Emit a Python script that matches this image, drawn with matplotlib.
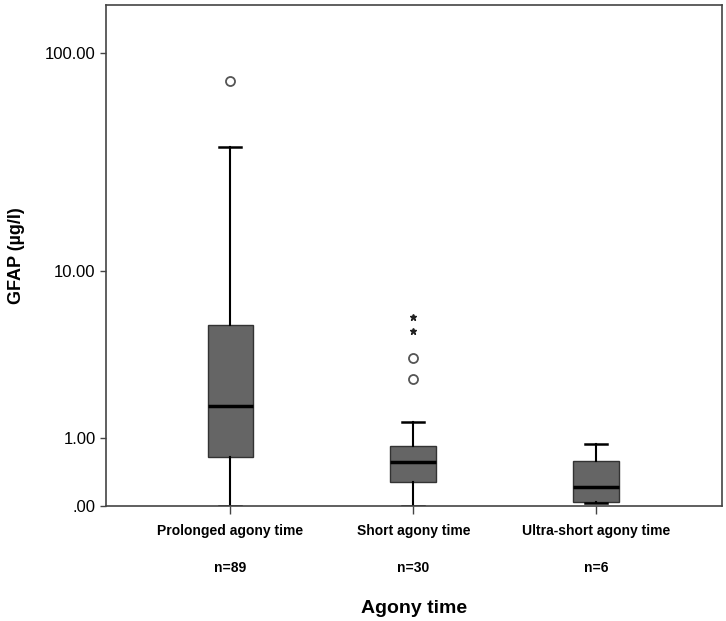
import matplotlib
matplotlib.use("Agg")
import matplotlib.pyplot as plt
import numpy as np

# data (GFAP, µg/l)
groups = ["Prolonged agony time", "Short agony time", "Ultra-short agony time"]
n_counts = [89, 30, 6]
q1 = [0.65, 0.285, 0.048]
medians = [1.76, 0.57, 0.214]
q3 = [5.3, 0.85, 0.59]
whisk_lo = [0.0, 0.0, 0.037]
whisk_hi = [37.8, 1.35, 0.89]
outliers = [[75.4], [2.66, 3.52], []]
extremes = [[], [4.98, 5.86], []]

ytick_vals = [0, 1, 10, 100]
ytick_labels = [".00", "1.00", "10.00", "100.00"]

GRAY, FRAME = "#656565", "#444444"
SANS = ["Liberation Sans", "DejaVu Sans"]


def fwd(y):
    return np.log10(np.asarray(y, dtype=float) + 1)


def inv(y):
    return 10 ** np.asarray(y, dtype=float) - 1


fig = plt.figure(figsize=(7.26, 6.21), dpi=100, facecolor="white")
ax = fig.add_axes([0.146, 0.185, 0.849, 0.807])
ax.set_yscale("function", functions=(fwd, inv))

pos = np.arange(1, len(groups) + 1)
stats = []
for i, g in enumerate(groups):
    stats.append(dict(label=g, q1=q1[i], med=medians[i], q3=q3[i],
                      whislo=whisk_lo[i], whishi=whisk_hi[i], fliers=outliers[i]))

ax.bxp(stats, positions=pos, widths=0.25, capwidths=0.12, patch_artist=True,
       boxprops=dict(facecolor=GRAY, edgecolor="#333333", linewidth=1.0),
       medianprops=dict(color="black", linewidth=2.5),
       whiskerprops=dict(color="black", linewidth=1.5),
       capprops=dict(color="black", linewidth=1.8),
       flierprops=dict(marker="o", markersize=6.5, markerfacecolor="white",
                       markeredgecolor="#555555", markeredgewidth=1.3))

for p, ext in zip(pos, extremes):
    if ext:
        ax.plot([p] * len(ext), ext, ls="none", marker="*", markersize=5,
                color="#222222")

ax.set_xlim(0.32, 3.69)
ax.set_ylim(0, 164)
ax.set_yticks(ytick_vals)
ax.set_yticklabels(ytick_labels, fontsize=12, family=SANS)
ax.minorticks_off()
ax.set_xticks(pos)
ax.set_xticklabels([f"{g}\n\nn={n}" for g, n in zip(groups, n_counts)],
                   fontsize=10, fontweight="bold", family=SANS, linespacing=1.38)
ax.tick_params(axis="y", direction="out", length=4, color=FRAME, width=1.0)
ax.tick_params(axis="x", direction="out", length=6, color=FRAME, width=1.0, pad=7)

for s in ax.spines.values():
    s.set_color(FRAME)
    s.set_linewidth(1.2)

ax.set_ylabel("GFAP (µg/l)", fontsize=13, fontweight="bold", family=SANS,
              labelpad=14)
ax.set_xlabel("Agony time", fontsize=14, fontweight="bold", family=SANS,
              labelpad=18)

plt.savefig("out.png", dpi=100, facecolor="white")
plt.close()
